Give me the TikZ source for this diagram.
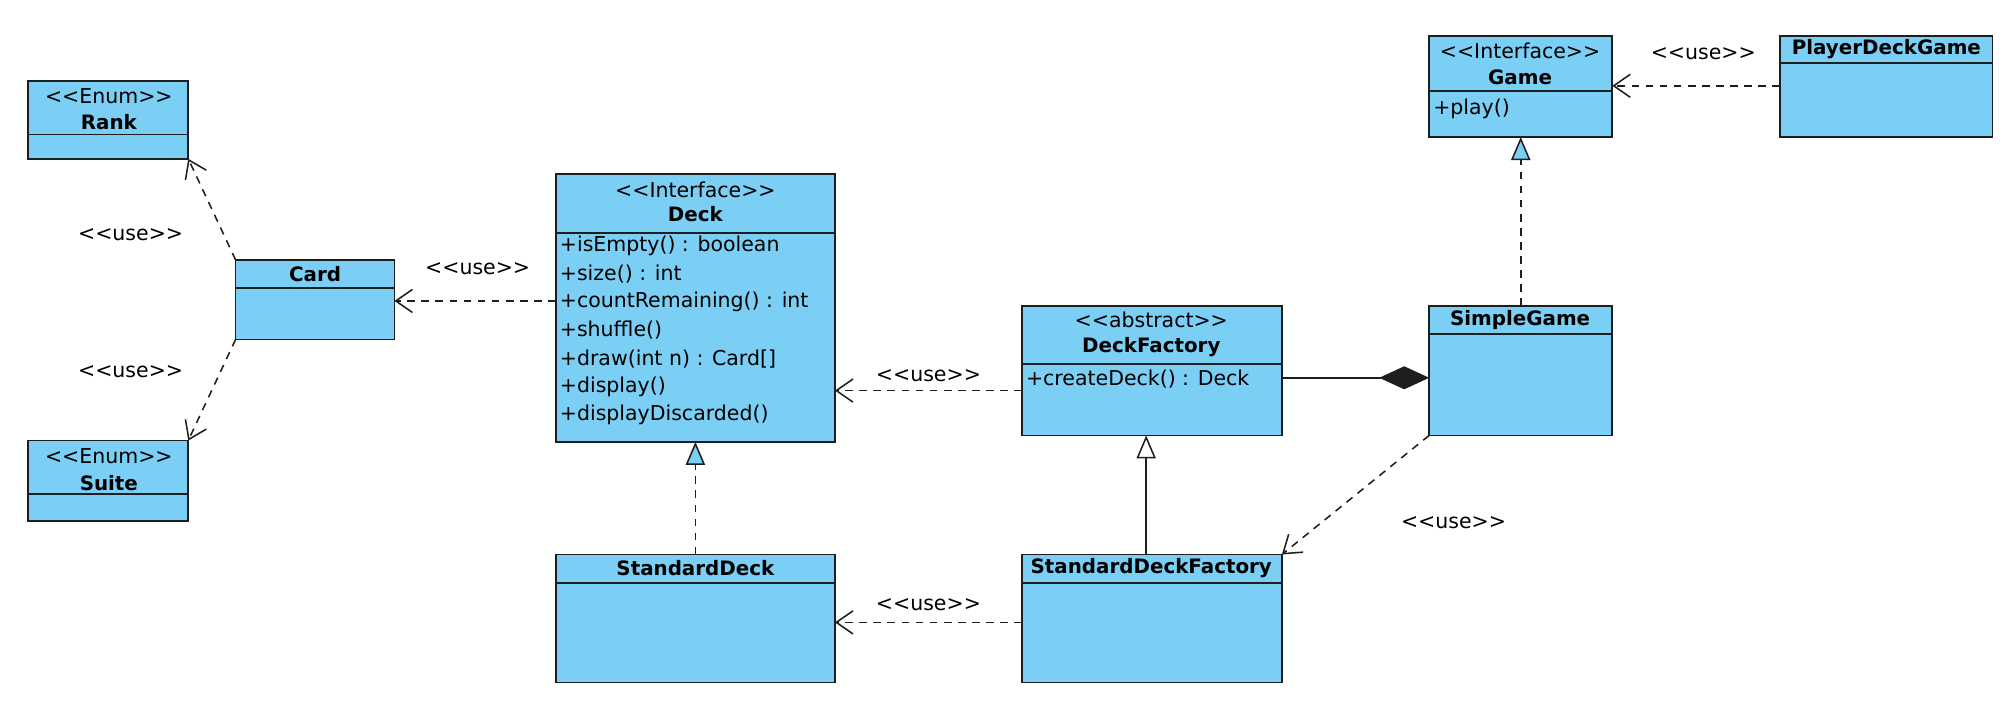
\documentclass[tikz,border=0pt]{standalone}
\usepackage{fontspec}
\setmainfont{DejaVu Sans}[Ligatures=TeXOff]
\usetikzlibrary{arrows.meta,fit,calc}
\definecolor{clsblue}{RGB}{123,206,244}
\definecolor{clsline}{RGB}{30,30,30}
\newcommand\umlcls[6]{%
  \node[cls, fit={(#2,#3) (#4,#5)}] (#1) {};
  \draw[sepline] (#2,#6) -- (#4,#6);}
\begin{document}
\begin{tikzpicture}[x=1pt,y=-1pt,
  cls/.style={draw=clsline, fill=clsblue, line width=1.3pt, inner sep=0pt, outer sep=0pt},
  sepline/.style={draw=clsline, line width=1.3pt},
  txt/.style={font=\fontsize{16}{19}\selectfont, inner sep=0pt},
  ttl/.style={font=\fontsize{15.5}{19}\selectfont\bfseries, inner sep=0pt},
  mth/.style={txt, anchor=west},
  usedep/.style={line width=1.2pt, draw=clsline, dash pattern=on 6pt off 5pt,
    -{Straight Barb[length=13pt,width=18pt,line width=1.2pt]}},
  real/.style={line width=1.2pt, draw=clsline, dash pattern=on 6pt off 5pt,
    -{Triangle[length=18pt,width=15pt,fill=clsblue,line width=1.2pt]}},
  gen/.style={line width=1.2pt, draw=clsline,
    -{Triangle[length=18pt,width=15pt,fill=white,line width=1.2pt]}},
  comp/.style={line width=1.2pt, draw=clsline, {Diamond[length=39pt,width=18pt]}-},
]
\useasboundingbox (0,0) rectangle (1568,551);

% class boxes
\umlcls{rank}{22}{63}{147}{124}{105}
\umlcls{suite}{22}{344}{147}{407}{386}
\umlcls{card}{184}{203}{308}{265}{225}
\umlcls{deck}{434}{136}{652}{345}{182}
\umlcls{df}{798}{239}{1001}{340}{284}
\umlcls{sd}{434}{433}{652}{533}{455}
\umlcls{sdf}{798}{433}{1001}{533}{455}
\umlcls{game}{1116}{28}{1259}{107}{71}
\umlcls{pdg}{1390}{28}{1556}{107}{49}
\umlcls{sg}{1116}{239}{1259}{340}{261}

% texts
\node[txt] (rankst) at (85,75) {<<Enum>>};
\node[ttl] (rankt) at (85,95) {Rank};
\node[txt] (suitest) at (85,356) {<<Enum>>};
\node[ttl] (suitet) at (85,377) {Suite};
\node[ttl] (cardt) at (246,214) {Card};
\node[txt] (deckst) at (543,148) {<<Interface>>};
\node[ttl] (deckt) at (543,167) {Deck};
\node[mth] (m1) at (437,192) {+isEmpty() : boolean};
\node[mth] (m2) at (437,214) {+size() : int};
\node[mth] (m3) at (437,236) {+countRemaining() : int};
\node[mth] (m4) at (437,258) {+shuffle()};
\node[mth] (m5) at (437,280) {+draw(int n) : Card[]};
\node[mth] (m6) at (437,302) {+display()};
\node[mth] (m7) at (437,324) {+displayDiscarded()};
\node[txt] (dfst) at (899,250) {<<abstract>>};
\node[ttl] (dft) at (899,271) {DeckFactory};
\node[mth] (dfm) at (801,296) {+createDeck() : Deck};
\node[ttl] (sdt) at (543,444) {StandardDeck};
\node[ttl] (sdft) at (899,444) {StandardDeckFactory};
\node[txt] (gamest) at (1187,40) {<<Interface>>};
\node[ttl] (gamet) at (1187,60) {Game};
\node[mth] (gamem) at (1119,85) {+play()};
\node[ttl] (pdgt) at (1473,38) {PlayerDeckGame};
\node[ttl] (sgt) at (1187,250) {SimpleGame};

% connectors
\draw[usedep] (card.north west) -- (rank.south east);
\draw[usedep] (card.south west) -- (suite.north east);
\draw[usedep] (deck.west |- 0,235) -- (card.east |- 0,235);
\draw[usedep] (df.west |- 0,305) -- (deck.east |- 0,305);
\draw[usedep] (sdf.west |- 0,486) -- (sd.east |- 0,486);
\draw[usedep] (pdg.west |- 0,67) -- (game.east |- 0,67);
\draw[usedep] (sg.south west) -- (sdf.north east);
\draw[real] (sd.north) -- (deck.south);
\draw[gen] (sdf.north -| 895,0) -- (df.south -| 895,0);
\draw[real] (sg.north) -- (game.south);
\draw[comp] (sg.west |- 0,295) -- (df.east |- 0,295);

% connector labels
\node[txt] (l1) at (102,183) {<<use>>};
\node[txt] (l2) at (102,290) {<<use>>};
\node[txt] (l3) at (373,210) {<<use>>};
\node[txt] (l4) at (725,293) {<<use>>};
\node[txt] (l5) at (725,472) {<<use>>};
\node[txt] (l6) at (1330,42) {<<use>>};
\node[txt] (l7) at (1135,408) {<<use>>};
\end{tikzpicture}
\end{document}
